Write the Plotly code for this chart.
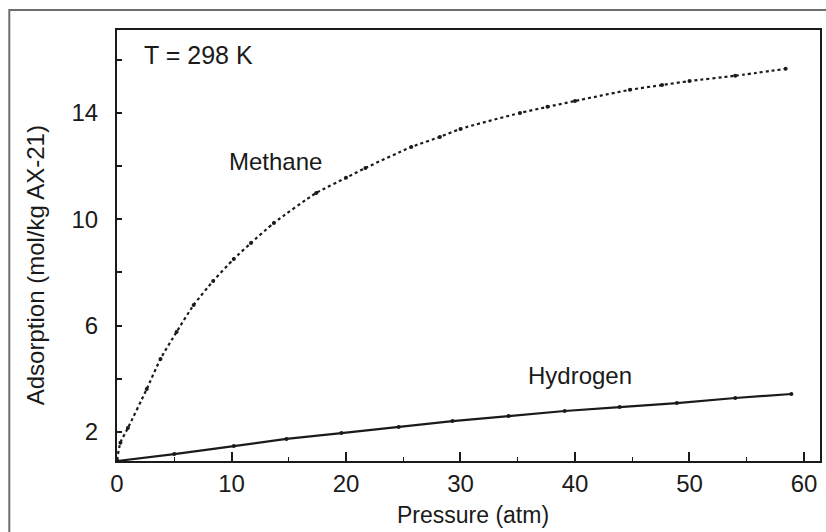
import plotly.graph_objects as go

# Adsorption isotherms on AX-21 activated carbon at 298 K
methane_p = [0, 0.3, 0.95, 2.6, 3.8, 5.2, 6.7, 8.4, 10.2, 11.7, 13.7, 17.4, 20.0,
             21.7, 25.7, 28.2, 30.0, 35.2, 37.6, 40.0, 44.8, 47.6, 50.0, 54.0, 58.4]
methane_a = [0.95, 1.6, 2.15, 3.62, 4.75, 5.76, 6.78, 7.68, 8.51, 9.11, 9.86, 10.99, 11.56,
             11.93, 12.72, 13.1, 13.4, 14.0, 14.23, 14.45, 14.87, 15.05, 15.2, 15.4, 15.66]

hydrogen_p = [0, 5.0, 10.2, 14.8, 19.6, 24.6, 29.3, 34.2, 39.1, 43.9, 48.9, 54.0, 58.9]
hydrogen_a = [0.91, 1.17, 1.47, 1.74, 1.96, 2.19, 2.41, 2.6, 2.79, 2.94, 3.09, 3.28, 3.43]

x_ticks = [0, 10, 20, 30, 40, 50, 60]
y_ticks = [2, 4, 6, 8, 10, 12, 14, 16]
y_labels = ["2", "", "6", "", "10", "", "14", ""]

FONT = "Liberation Sans, Arial, Helvetica, sans-serif"
INK = "#1a1a1a"
FS = 24

fig = go.Figure()

fig.add_trace(go.Scatter(
    x=methane_p, y=methane_a, mode="lines+markers",
    line=dict(color=INK, width=2.2, dash="dot", shape="spline", smoothing=0.6),
    marker=dict(color=INK, size=4),
    showlegend=False,
))
fig.add_trace(go.Scatter(
    x=hydrogen_p, y=hydrogen_a, mode="lines+markers",
    line=dict(color=INK, width=2.2),
    marker=dict(color=INK, size=4),
    showlegend=False,
))

fig.update_xaxes(
    range=[0, 61.4], tickvals=x_ticks, ticks="inside", ticklen=9, tickwidth=1.5,
    tickcolor=INK, linecolor=INK, linewidth=2, showline=True, mirror=True,
    showgrid=False, zeroline=False, ticklabelstandoff=0,
    tickfont=dict(family=FONT, size=FS, color=INK),
    minor=dict(dtick=5, tick0=0, ticks="inside", ticklen=4, tickwidth=1.2, tickcolor=INK),
)
fig.update_yaxes(
    range=[0.91, 17.12], tickvals=y_ticks, ticktext=y_labels, ticks="inside",
    ticklen=5, tickwidth=1.5, tickcolor=INK, linecolor=INK, linewidth=2,
    showline=True, mirror=True, showgrid=False, zeroline=False,
    ticklabelstandoff=12,
    tickfont=dict(family=FONT, size=FS, color=INK),
)

ann_font = dict(family=FONT, size=FS, color=INK)
fig.add_annotation(x=2.18, y=16.18, text="T = 298 K", showarrow=False,
                   xanchor="left", yanchor="middle", font=dict(family=FONT, size=25, color=INK))
fig.add_annotation(x=9.6, y=12.16, text="Methane", showarrow=False,
                   xanchor="left", yanchor="middle", font=ann_font)
fig.add_annotation(x=35.7, y=4.14, text="Hydrogen", showarrow=False,
                   xanchor="left", yanchor="middle", font=ann_font)

# axis titles
fig.add_annotation(x=(474 - 117) / 705, y=(461 - 515) / 431, xref="paper", yref="paper",
                   text="Pressure (atm)", showarrow=False,
                   font=dict(family=FONT, size=23, color=INK),
                   xanchor="center", yanchor="middle")
fig.add_annotation(x=(35 - 117) / 705, y=(461 - 265) / 431, xref="paper", yref="paper",
                   text="Adsorption (mol/kg AX-21)", showarrow=False, font=ann_font,
                   textangle=-90, xanchor="center", yanchor="middle")

# outer frame around the figure
fig.add_shape(type="rect", xref="paper", yref="paper",
              x0=(9 - 117) / 705, x1=(840 - 117) / 705,
              y0=(461 - 550) / 431, y1=(461 - 10) / 431,
              line=dict(color="#6e6e6e", width=2), layer="below")

fig.update_layout(
    width=826, height=532,
    margin=dict(l=117, r=4, t=30, b=71),
    paper_bgcolor="white", plot_bgcolor="white",
)

fig.write_html("out.html")
